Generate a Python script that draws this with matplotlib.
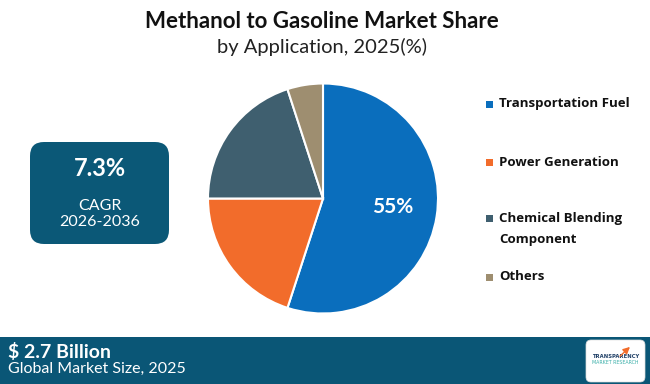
import matplotlib.pyplot as plt
from matplotlib.patches import FancyBboxPatch, Rectangle

# Data
categories = ["Transportation Fuel", "Power Generation", "Chemical Blending\nComponent", "Others"]
shares = [55, 20, 20, 5]
colors = ["#0A6EBD", "#F26C2B", "#3F5F6F", "#9E8E70"]

title = "Methanol to Gasoline Market Share"
subtitle = "by Application, 2025(%)"
cagr_value = "7.3%"
cagr_period = "CAGR\n2026-2036"
market_size = "$ 2.7 Billion"
market_label = "Global Market Size, 2025"

W, H = 650, 384
fig = plt.figure(figsize=(W / 100, H / 100), dpi=100)
fig.patch.set_facecolor("white")

# Background overlay axes in pixel coordinates
bg = fig.add_axes([0, 0, 1, 1])
bg.set_xlim(0, W)
bg.set_ylim(H, 0)
bg.axis("off")

# Title
bg.text(322, 22, title, ha="center", va="center", fontsize=16, fontweight="bold",
        family="Lato", color="#111111")
bg.text(322, 47, subtitle, ha="center", va="center", fontsize=14.5,
        family="Lato", color="#222222")

# CAGR box
box = FancyBboxPatch((30, 142), 139, 102, boxstyle="round,pad=0,rounding_size=14",
                     facecolor="#0B5877", edgecolor="none")
bg.add_patch(box)
bg.text(99.5, 169, cagr_value, ha="center", va="center", fontsize=17, fontweight="bold",
        family="Lato", color="white")
bg.text(99.5, 214, cagr_period, ha="center", va="center", fontsize=11.5,
        family="Lato", color="white", linespacing=1.2)

# Bottom bar
bg.add_patch(Rectangle((0, 337), W, 47, facecolor="#0A5676", edgecolor="none"))
bg.text(8, 352, market_size, ha="left", va="center", fontsize=14, fontweight="bold",
        family="Lato", color="white")
bg.text(8, 369, market_label, ha="left", va="center", fontsize=11.5,
        family="Lato", color="white")

# Logo placeholder
logo = FancyBboxPatch((586, 340), 59, 42, boxstyle="round,pad=0,rounding_size=5",
                      facecolor="white", edgecolor="#DDDDDD", linewidth=0.5)
bg.add_patch(logo)
bg.text(615.5, 356, "TRANSPARENCY", ha="center", va="center", fontsize=3.8,
        fontweight="bold", color="#1F3F66", family="DejaVu Sans")
bg.text(615.5, 362, "MARKET RESEARCH", ha="center", va="center", fontsize=3.4,
        color="#3AAFA9", family="DejaVu Sans")
bg.annotate("", xy=(632, 345), xytext=(618, 358),
            arrowprops=dict(arrowstyle="-|>", color="#F26C2B", lw=1.0))

# Legend
legend_y = [104, 162, 229, 277]
for cat, col, y in zip(categories, colors, legend_y):
    first_y = y - 11 if "\n" in cat else y
    bg.add_patch(Rectangle((486, first_y - 3.5), 7, 7, facecolor=col, edgecolor="none"))
    bg.text(499, y, cat, ha="left", va="center", fontsize=9.5, fontweight="bold",
            family="Open Sans", color="#111111", linespacing=1.75)

# Pie
cx, cy, r = 323, 198.5, 115
pie_ax = fig.add_axes([(cx - r) / W, 1 - (cy + r) / H, 2 * r / W, 2 * r / H])
wedges, _ = pie_ax.pie(shares, colors=colors, startangle=90, counterclock=False,
                       wedgeprops=dict(edgecolor="white", linewidth=1.5))
pie_ax.set_xlim(-1, 1)
pie_ax.set_ylim(-1, 1)
pie_ax.set_aspect("equal")
pie_ax.text(0.603, -0.075, f"{shares[0]}%", ha="center", va="center", fontsize=15,
            fontweight="bold", color="white", family="Lato")

fig.savefig("out.png", dpi=100, facecolor="white")
